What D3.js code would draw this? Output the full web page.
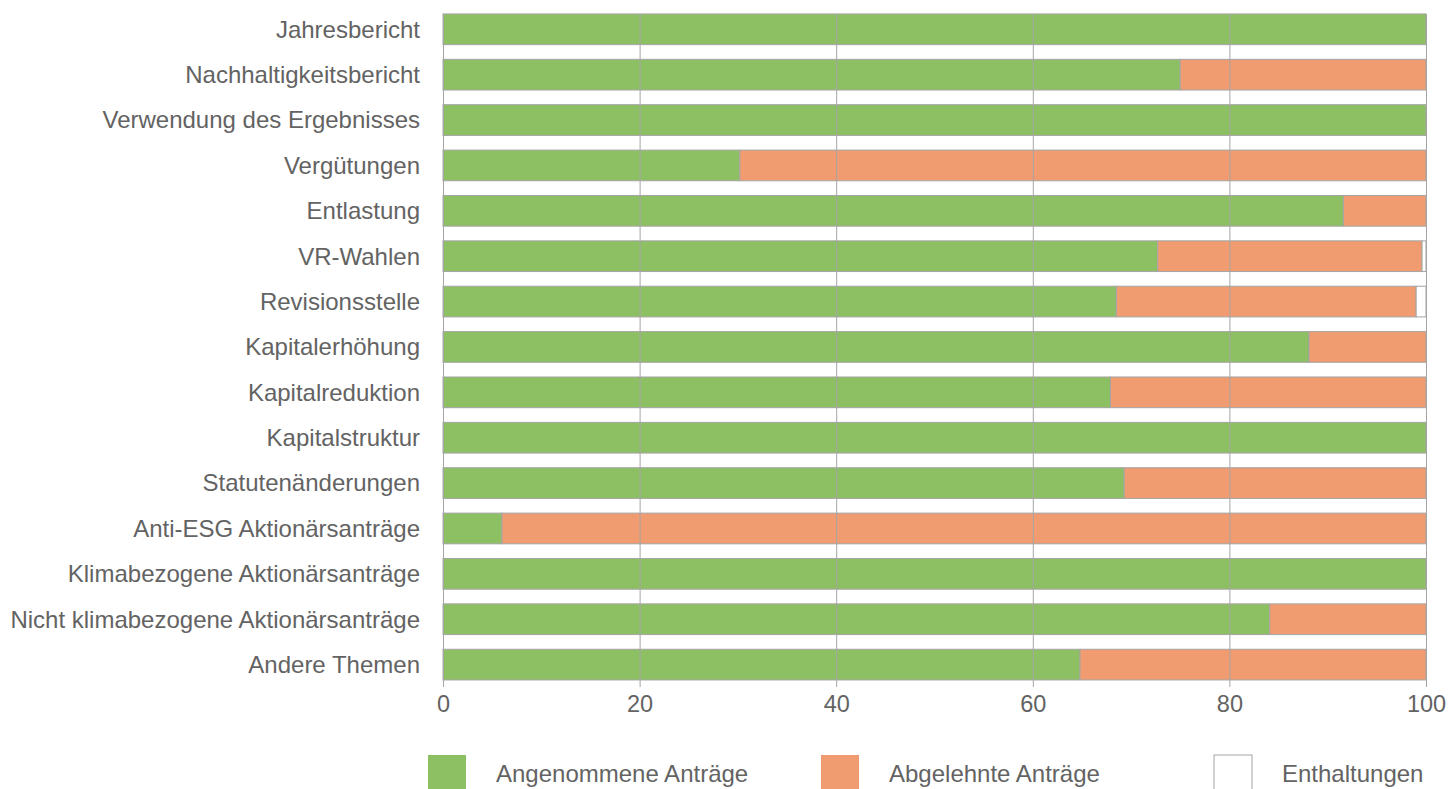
<!DOCTYPE html>
<html>
<head>
<meta charset="utf-8">
<script src="https://cdn.jsdelivr.net/npm/d3@7"></script>
<style>
  body { margin: 0; background: #fff; }
  text { font-family: "Liberation Sans", Arial, sans-serif; fill: #636363; }
</style>
</head>
<body>
<div id="root"></div>
<script>
var categories = [
  'Jahresbericht',
  'Nachhaltigkeitsbericht',
  'Verwendung des Ergebnisses',
  'Vergütungen',
  'Entlastung',
  'VR-Wahlen',
  'Revisionsstelle',
  'Kapitalerhöhung',
  'Kapitalreduktion',
  'Kapitalstruktur',
  'Statutenänderungen',
  'Anti-ESG Aktionärsanträge',
  'Klimabezogene Aktionärsanträge',
  'Nicht klimabezogene Aktionärsanträge',
  'Andere Themen'
];
var angenommen = [100, 75.0, 100, 30.2, 91.6, 72.7, 68.5, 88.1, 67.9, 100, 69.3, 6.0, 100, 84.1, 64.8];
var abgelehnt = [0, 25.0, 0, 69.8, 8.4, 26.9, 30.5, 11.9, 32.1, 0, 30.7, 94.0, 0, 15.9, 35.2];
var enthaltungen = [0, 0, 0, 0, 0, 0.4, 1.0, 0, 0, 0, 0, 0, 0, 0, 0];
var seriesNames = ['Angenommene Anträge', 'Abgelehnte Anträge', 'Enthaltungen'];
var colors = ['#8dbf63', '#f09c70', '#ffffff'];
var xTicks = [0, 20, 40, 60, 80, 100];

var w = 1449, h = 789;
var svg = d3.select('#root').append('svg').attr('width', w).attr('height', h);

var rows = categories.map(function (c, i) {
  return { cat: c, a: angenommen[i], b: abgelehnt[i], e: enthaltungen[i] };
});
var stacked = d3.stack().keys(['a', 'b', 'e'])(rows);

var x = d3.scaleLinear().domain([0, 100]).range([443, 1426]);
var y = d3.scaleBand().domain(categories).range([6.6, 687.3])
  .paddingInner(0.3235).paddingOuter(0.1618);

// bars
svg.append('g')
  .selectAll('g')
  .data(stacked)
  .enter()
  .append('g')
  .attr('fill', function (d, i) { return colors[i]; })
  .selectAll('rect')
  .data(function (d) { return d.filter(function (p) { return p[1] - p[0] > 0; }); })
  .enter()
  .append('rect')
  .attr('x', function (d) { return x(d[0]); })
  .attr('y', function (d) { return y(d.data.cat); })
  .attr('width', function (d) { return x(d[1]) - x(d[0]); })
  .attr('height', y.bandwidth())
  .attr('stroke', '#a5a5a5')
  .attr('stroke-width', 1);

// gridlines + tick labels on top of the bars
var axisY = 687;
var gridTop = Math.round(y(categories[0]));
var xAxis = svg.append('g')
  .attr('transform', 'translate(0,' + axisY + ')')
  .call(d3.axisBottom(x).tickValues(xTicks).tickSize(-(axisY - gridTop)).tickPadding(8));
xAxis.select('.domain').remove();
xAxis.selectAll('line').attr('stroke', '#a5a5a5');
xAxis.selectAll('text')
  .style('font-family', '"Liberation Sans", Arial, sans-serif')
  .style('font-size', '23.5px')
  .attr('fill', '#666');

// category labels
svg.append('g')
  .selectAll('text')
  .data(categories)
  .enter()
  .append('text')
  .attr('x', 420)
  .attr('y', function (d) { return y(d) + y.bandwidth() / 2; })
  .attr('dy', '0.35em')
  .attr('text-anchor', 'end')
  .style('font-size', '24px')
  .text(function (d) { return d; });

// legend
var legend = svg.append('g')
  .selectAll('g')
  .data(seriesNames)
  .enter()
  .append('g')
  .attr('transform', function (d, i) { return 'translate(' + (428 + i * 393) + ',755)'; });
legend.append('rect')
  .attr('width', 38)
  .attr('height', 38)
  .attr('fill', function (d, i) { return colors[i]; })
  .attr('stroke', function (d, i) { return i === 2 ? '#a5a5a5' : 'none'; });
legend.append('text')
  .attr('x', 68)
  .attr('y', 27)
  .style('font-size', '24px')
  .text(function (d) { return d; });
</script>
</body>
</html>
